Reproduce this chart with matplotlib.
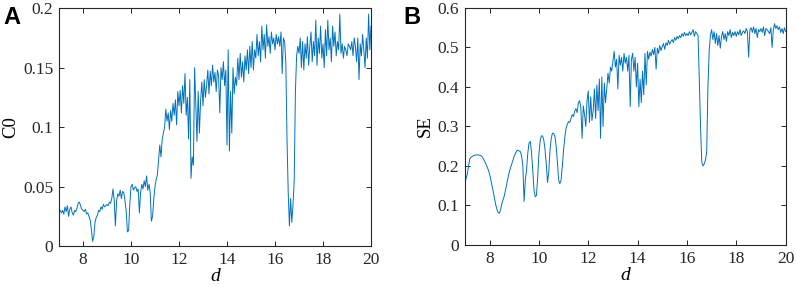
import numpy as np
import matplotlib
matplotlib.use("Agg")
import matplotlib.pyplot as plt

# sampling grid of d (step 0.05)
d = np.round(np.arange(7.0, 20.001, 0.05), 2)

# panel A: C0
c0 = [
    0.031, 0.030, 0.028, 0.030, 0.027, 0.033, 0.029, 0.034, 0.025, 0.031, 0.033, 0.028, 0.026, 0.030, 0.029, 0.032, 0.036, 0.037, 0.034, 0.031,
    0.030, 0.029, 0.031, 0.027, 0.028, 0.025, 0.022, 0.014, 0.004, 0.008, 0.020, 0.024, 0.026, 0.030, 0.029, 0.033, 0.031, 0.035, 0.033, 0.034,
    0.035, 0.034, 0.037, 0.036, 0.040, 0.048, 0.039, 0.017, 0.038, 0.044, 0.042, 0.047, 0.040, 0.046, 0.045, 0.038, 0.030, 0.012, 0.013, 0.035,
    0.050, 0.052, 0.047, 0.049, 0.050, 0.046, 0.048, 0.028, 0.045, 0.052, 0.048, 0.055, 0.050, 0.059, 0.047, 0.052, 0.045, 0.021, 0.025, 0.040,
    0.050, 0.056, 0.060, 0.072, 0.085, 0.075, 0.090, 0.095, 0.100, 0.115, 0.105, 0.112, 0.098, 0.114, 0.105, 0.120, 0.110, 0.123, 0.102, 0.130,
    0.118, 0.131, 0.112, 0.135, 0.120, 0.145, 0.110, 0.125, 0.090, 0.140, 0.057, 0.075, 0.068, 0.150, 0.118, 0.088, 0.130, 0.095, 0.122, 0.138,
    0.118, 0.140, 0.125, 0.135, 0.148, 0.128, 0.147, 0.135, 0.152, 0.138, 0.146, 0.130, 0.148, 0.143, 0.112, 0.150, 0.140, 0.155, 0.135, 0.148,
    0.085, 0.165, 0.080, 0.130, 0.095, 0.150, 0.128, 0.142, 0.135, 0.158, 0.140, 0.162, 0.142, 0.155, 0.138, 0.160, 0.148, 0.165, 0.145, 0.168,
    0.150, 0.172, 0.148, 0.165, 0.158, 0.178, 0.160, 0.172, 0.155, 0.185, 0.165, 0.178, 0.158, 0.186, 0.168, 0.176, 0.162, 0.180, 0.170, 0.175,
    0.165, 0.178, 0.170, 0.176, 0.168, 0.180, 0.145, 0.175, 0.172, 0.155, 0.090, 0.045, 0.017, 0.040, 0.020, 0.035, 0.055, 0.130, 0.160, 0.168,
    0.162, 0.175, 0.150, 0.172, 0.148, 0.170, 0.158, 0.176, 0.152, 0.168, 0.180, 0.155, 0.172, 0.160, 0.190, 0.152, 0.175, 0.162, 0.185, 0.158,
    0.170, 0.150, 0.182, 0.160, 0.190, 0.165, 0.175, 0.155, 0.185, 0.168, 0.180, 0.160, 0.172, 0.165, 0.195, 0.162, 0.170, 0.158, 0.168, 0.165,
    0.160, 0.170, 0.168, 0.165, 0.172, 0.160, 0.175, 0.168, 0.155, 0.175, 0.140, 0.170, 0.160, 0.178, 0.165, 0.150, 0.175, 0.158, 0.195, 0.165,
    0.185,
]

# panel B: SE
se = [
    0.160, 0.168, 0.180, 0.200, 0.218, 0.222, 0.224, 0.226, 0.227, 0.228, 0.228, 0.228, 0.227, 0.226, 0.223, 0.218, 0.212, 0.205, 0.198, 0.190,
    0.180, 0.165, 0.150, 0.135, 0.118, 0.102, 0.090, 0.082, 0.080, 0.090, 0.105, 0.115, 0.125, 0.140, 0.155, 0.170, 0.185, 0.195, 0.205, 0.215,
    0.225, 0.232, 0.238, 0.240, 0.238, 0.236, 0.225, 0.200, 0.110, 0.165, 0.190, 0.232, 0.258, 0.262, 0.235, 0.190, 0.140, 0.122, 0.125, 0.170,
    0.230, 0.262, 0.276, 0.276, 0.265, 0.240, 0.205, 0.158, 0.185, 0.240, 0.270, 0.283, 0.282, 0.275, 0.250, 0.210, 0.165, 0.155, 0.165, 0.200,
    0.240, 0.272, 0.295, 0.305, 0.312, 0.310, 0.320, 0.330, 0.325, 0.338, 0.345, 0.335, 0.360, 0.365, 0.348, 0.270, 0.352, 0.330, 0.300, 0.365,
    0.390, 0.310, 0.375, 0.315, 0.340, 0.395, 0.320, 0.405, 0.340, 0.420, 0.270, 0.425, 0.300, 0.410, 0.360, 0.395, 0.435, 0.410, 0.450, 0.440,
    0.465, 0.490, 0.450, 0.470, 0.395, 0.480, 0.455, 0.475, 0.440, 0.485, 0.460, 0.475, 0.440, 0.480, 0.350, 0.470, 0.485, 0.440, 0.475, 0.400,
    0.460, 0.350, 0.420, 0.360, 0.440, 0.380, 0.485, 0.405, 0.490, 0.470, 0.488, 0.478, 0.495, 0.482, 0.500, 0.445, 0.498, 0.485, 0.505, 0.492,
    0.502, 0.510, 0.495, 0.512, 0.505, 0.518, 0.508, 0.515, 0.520, 0.512, 0.525, 0.518, 0.528, 0.522, 0.530, 0.525, 0.535, 0.528, 0.538, 0.530,
    0.535, 0.530, 0.540, 0.532, 0.538, 0.545, 0.528, 0.540, 0.535, 0.530, 0.420, 0.300, 0.210, 0.200, 0.205, 0.215, 0.235, 0.400, 0.490, 0.530,
    0.545, 0.520, 0.540, 0.510, 0.535, 0.505, 0.530, 0.498, 0.528, 0.540, 0.520, 0.535, 0.515, 0.540, 0.530, 0.545, 0.525, 0.538, 0.530, 0.540,
    0.528, 0.540, 0.532, 0.545, 0.530, 0.538, 0.542, 0.535, 0.548, 0.540, 0.475, 0.545, 0.550, 0.538, 0.552, 0.535, 0.548, 0.525, 0.545, 0.540,
    0.548, 0.538, 0.552, 0.530, 0.548, 0.545, 0.540, 0.535, 0.550, 0.500, 0.545, 0.560, 0.548, 0.555, 0.545, 0.552, 0.538, 0.548, 0.535, 0.550,
    0.540,
]

xticks = [8, 10, 12, 14, 16, 18, 20]
yticks_a = [0, 0.05, 0.1, 0.15, 0.2]
yticks_b = [0, 0.1, 0.2, 0.3, 0.4, 0.5, 0.6]

line_color = "#0072BD"
serif = ["Liberation Serif", "DejaVu Serif"]

fig = plt.figure(figsize=(7.96, 2.93), dpi=100)
ax_a = fig.add_axes([0.0741, 0.160, 0.392, 0.812])
ax_b = fig.add_axes([0.584, 0.164, 0.403, 0.809])

panels = [
    (ax_a, c0, "C0", yticks_a, (0, 0.2), "A", 0.004),
    (ax_b, se, "SE", yticks_b, (0, 0.6), "B", 0.507),
]

for ax, vals, ylab, yt, ylim, letter, lx in panels:
    ax.plot(d, vals, color=line_color, linewidth=0.7)
    ax.set_xlim(7, 20)
    ax.set_ylim(*ylim)
    ax.set_xticks(xticks)
    ax.set_xticklabels([str(t) for t in xticks], family=serif, fontsize=12.5)
    ax.set_yticks(yt)
    ax.set_yticklabels([f"{t:g}" for t in yt], family=serif, fontsize=12.5)
    ax.tick_params(direction="in", top=True, right=True, length=3.5,
                   width=0.7, colors="#262626", pad=4)
    for s in ax.spines.values():
        s.set_linewidth(0.8)
        s.set_color("#262626")
    ax.set_xlabel("d", family=serif, style="italic", fontsize=14, labelpad=0)
    ax.set_ylabel(ylab, family=serif, fontsize=13.5, labelpad=3)
    fig.text(lx, 0.978, letter, fontsize=17, fontweight="bold",
             family=["Liberation Sans", "DejaVu Sans"], va="top", ha="left")

fig.savefig("out.png", dpi=100)
